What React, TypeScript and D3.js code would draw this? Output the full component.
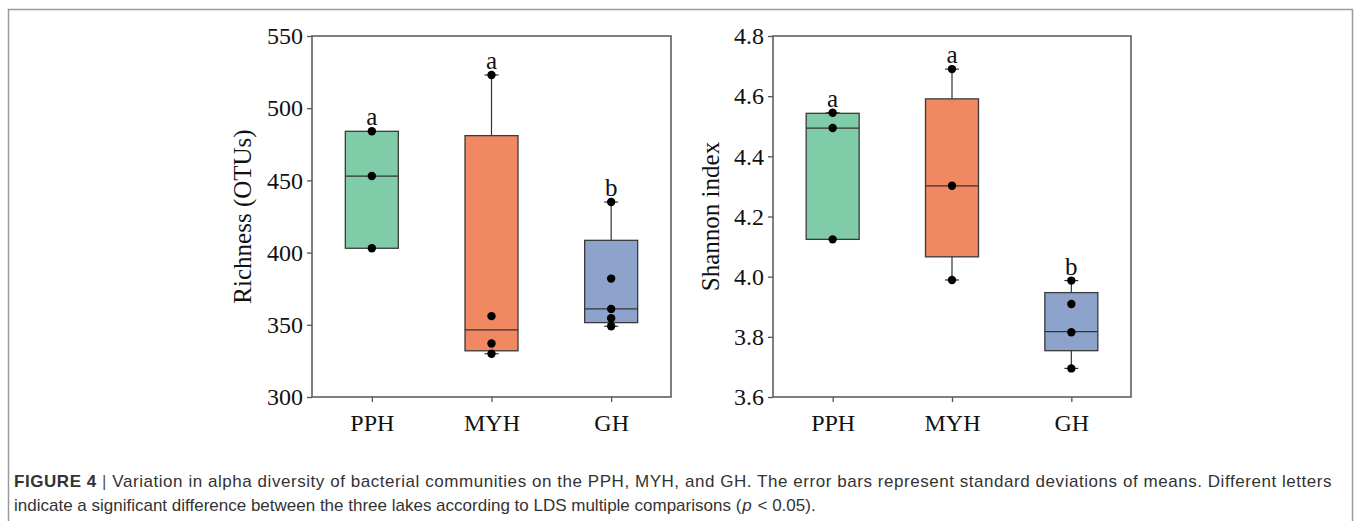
import * as d3 from "d3";
import React, { useEffect, useRef } from "react";

// groups on the x axis
const groups = ["PPH", "MYH", "GH"];
const letters = ["a", "a", "b"];
const colors = ["#80cba8", "#f08962", "#8ea3cc"];

// Richness (OTUs)
const richnessPoints = [
  [484, 453, 403],
  [523, 356, 337, 330],
  [435, 382, 361, 354.5, 349],
];
const richnessQ1 = [403, 332, 351.5];
const richnessMedian = [453, 346.5, 361];
const richnessQ3 = [484, 481, 408.5];
const richnessMin = [403, 330, 349];
const richnessMax = [484, 523, 435];
const richnessTicks = [300, 350, 400, 450, 500, 550];

// Shannon index
const shannonPoints = [
  [4.545, 4.494, 4.124],
  [4.69, 4.302, 3.989],
  [3.987, 3.909, 3.815, 3.695],
];
const shannonQ1 = [4.124, 4.066, 3.754];
const shannonMedian = [4.494, 4.302, 3.817];
const shannonQ3 = [4.543, 4.591, 3.947];
const shannonMin = [4.124, 3.989, 3.695];
const shannonMax = [4.545, 4.69, 3.987];
const shannonTicks = [3.6, 3.8, 4.0, 4.2, 4.4, 4.6, 4.8];

const captionLine1 =
  "Variation in alpha diversity of bacterial communities on the PPH, MYH, and GH. The error bars represent standard deviations of means. Different letters";
const captionLine2 =
  "indicate a significant difference between the three lakes according to LDS multiple comparisons (";

function drawPanel(svg, opts) {
  const { left, top, width, height, domain, ticks, fmt, title, points, q1, med, q3, lo, hi } = opts;
  const serif = "'Liberation Serif', 'Times New Roman', serif";

  const x = d3.scalePoint().domain(groups).range([0, width]).padding(0.5);
  const y = d3.scaleLinear().domain(domain).range([height, 0]);
  const boxW = 53;
  const capW = 14;

  const g = svg.append("g").attr("transform", "translate(" + left + "," + top + ")");

  // boxes
  groups.forEach((grp, i) => {
    const cx = x(grp);
    if (hi[i] > q3[i] + 1e-9) {
      g.append("line").attr("x1", cx).attr("x2", cx).attr("y1", y(q3[i])).attr("y2", y(hi[i]))
        .attr("stroke", "#333").attr("stroke-width", 1.2);
      g.append("line").attr("x1", cx - capW / 2).attr("x2", cx + capW / 2).attr("y1", y(hi[i])).attr("y2", y(hi[i]))
        .attr("stroke", "#333").attr("stroke-width", 1.2);
    }
    if (lo[i] < q1[i] - 1e-9) {
      g.append("line").attr("x1", cx).attr("x2", cx).attr("y1", y(q1[i])).attr("y2", y(lo[i]))
        .attr("stroke", "#333").attr("stroke-width", 1.2);
      g.append("line").attr("x1", cx - capW / 2).attr("x2", cx + capW / 2).attr("y1", y(lo[i])).attr("y2", y(lo[i]))
        .attr("stroke", "#333").attr("stroke-width", 1.2);
    }
    g.append("rect")
      .attr("x", cx - boxW / 2)
      .attr("y", y(q3[i]))
      .attr("width", boxW)
      .attr("height", y(q1[i]) - y(q3[i]))
      .attr("fill", colors[i])
      .attr("stroke", "#3a3a3a")
      .attr("stroke-width", 1.3);
    g.append("line").attr("x1", cx - boxW / 2).attr("x2", cx + boxW / 2).attr("y1", y(med[i])).attr("y2", y(med[i]))
      .attr("stroke", "#333").attr("stroke-width", 1.3);

    g.selectAll(".pt" + i)
      .data(points[i])
      .enter()
      .append("circle")
      .attr("cx", cx)
      .attr("cy", (d) => y(d))
      .attr("r", 4.2)
      .attr("fill", "#000");

    g.append("text")
      .attr("x", cx)
      .attr("y", y(hi[i]) - 6)
      .attr("text-anchor", "middle")
      .attr("font-family", serif)
      .attr("font-size", "25px")
      .attr("fill", "#111")
      .text(letters[i]);
  });

  // frame
  g.append("rect").attr("width", width).attr("height", height)
    .attr("fill", "none").attr("stroke", "#555").attr("stroke-width", 1.5);

  const yAxis = g.append("g").call(d3.axisLeft(y).tickValues(ticks).tickSize(5).tickPadding(4).tickFormat(fmt));
  yAxis.select(".domain").remove();
  yAxis.selectAll("line").attr("stroke", "#555").attr("stroke-width", 1.3);
  yAxis.selectAll("text").attr("font-family", serif).attr("font-size", "24px").attr("fill", "#111");

  const xAxis = g.append("g").attr("transform", "translate(0," + height + ")")
    .call(d3.axisBottom(x).tickSize(5).tickPadding(12));
  xAxis.select(".domain").remove();
  xAxis.selectAll("line").attr("stroke", "#555").attr("stroke-width", 1.3);
  xAxis.selectAll("text").attr("font-family", serif).attr("font-size", "24px").attr("fill", "#111");

  g.append("text")
    .attr("transform", "translate(" + opts.titleX + "," + height / 2 + ") rotate(-90)")
    .attr("text-anchor", "middle")
    .attr("dy", "0.35em")
    .attr("font-family", serif)
    .attr("font-size", "25px")
    .attr("fill", "#111")
    .text(title);
}

function App() {
  const ref = useRef(null);

  useEffect(() => {
    document.body.style.margin = "0";
    const svg = d3.select(ref.current);
    svg.selectAll("*").remove();

    // outer frame
    svg.append("rect").attr("x", 8.5).attr("y", 9.5).attr("width", 1344).attr("height", 530)
      .attr("fill", "none").attr("stroke", "#9a9a9a").attr("stroke-width", 1.5);

    drawPanel(svg, {
      left: 312, top: 36, width: 359, height: 361,
      domain: [300, 550], ticks: richnessTicks, fmt: d3.format("d"),
      title: "Richness (OTUs)", titleX: -70,
      points: richnessPoints, q1: richnessQ1, med: richnessMedian, q3: richnessQ3,
      lo: richnessMin, hi: richnessMax,
    });

    drawPanel(svg, {
      left: 773, top: 36, width: 358, height: 361,
      domain: [3.6, 4.8], ticks: shannonTicks, fmt: d3.format(".1f"),
      title: "Shannon index", titleX: -63,
      points: shannonPoints, q1: shannonQ1, med: shannonMedian, q3: shannonQ3,
      lo: shannonMin, hi: shannonMax,
    });

    const sans = "'Liberation Sans', Arial, sans-serif";
    const t1 = svg.append("text").attr("x", 14).attr("y", 487)
      .attr("font-family", sans).attr("font-size", "17px").attr("fill", "#333")
      .attr("letter-spacing", "0.55px");
    t1.append("tspan").attr("font-weight", "bold").text("FIGURE 4");
    t1.append("tspan").attr("fill", "#555").text(" | ");
    t1.append("tspan").text(captionLine1);

    const t2 = svg.append("text").attr("x", 14).attr("y", 511)
      .attr("font-family", sans).attr("font-size", "17px").attr("fill", "#333");
    t2.append("tspan").text(captionLine2);
    t2.append("tspan").attr("font-style", "italic").attr("dx", 1).text("p");
    t2.append("tspan").attr("dx", 1).text(" < 0.05).");
  }, []);

  return <svg ref={ref} width={1354} height={521} style={{ display: "block" }} />;
}

export default App;
